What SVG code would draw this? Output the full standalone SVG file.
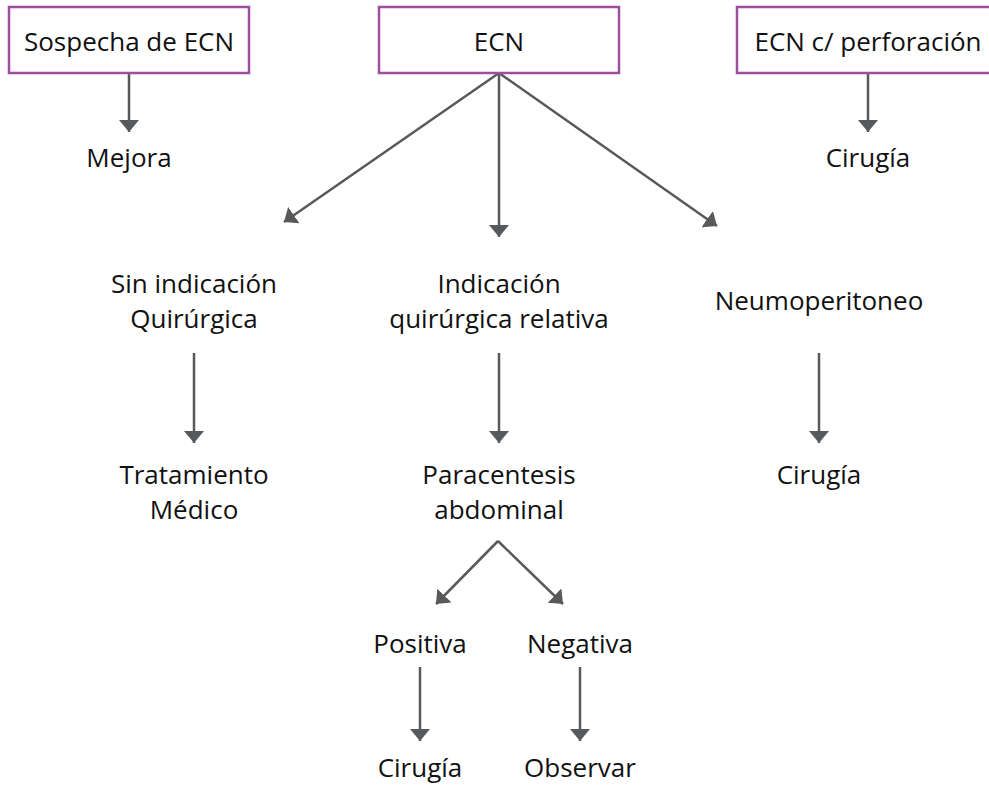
<svg xmlns="http://www.w3.org/2000/svg" width="989" height="787" viewBox="0 0 989 787">
<style>
.box{fill:#fff;stroke:#9e4f9f;stroke-width:2.5}
.t{font-family:"Open Sans","Liberation Sans",sans-serif;font-size:26px;fill:#111;text-anchor:middle}
.c{fill:none;stroke:#58595b;stroke-width:2.5}
</style>
<defs>
<marker id="ah" markerUnits="userSpaceOnUse" markerWidth="12" markerHeight="20" refX="12" refY="10" orient="auto" viewBox="0 0 12 20">
<path d="M0,0 L12,10 L0,20 z" fill="#58595b"/>
</marker>
</defs>
<rect width="989" height="787" fill="#fff"/>
<g id="connectors">
<path class="c" d="M129,73 V132" marker-end="url(#ah)"/>
<path class="c" d="M868,73 V132" marker-end="url(#ah)"/>
<path class="c" d="M499,73 L284,222" marker-end="url(#ah)"/>
<path class="c" d="M499,73 V237" marker-end="url(#ah)"/>
<path class="c" d="M499,73 L717,226" marker-end="url(#ah)"/>
<path class="c" d="M194,353 V443" marker-end="url(#ah)"/>
<path class="c" d="M499,353 V443" marker-end="url(#ah)"/>
<path class="c" d="M819,353 V443" marker-end="url(#ah)"/>
<path class="c" d="M498,541 L436,604" marker-end="url(#ah)"/>
<path class="c" d="M498,541 L563,604" marker-end="url(#ah)"/>
<path class="c" d="M420,667 V741" marker-end="url(#ah)"/>
<path class="c" d="M580,667 V741" marker-end="url(#ah)"/>
</g>
<g id="sospecha"><rect class="box" x="9" y="7" width="240" height="66"/><text class="t" x="129" y="51">Sospecha de ECN</text></g>
<g id="ecn"><rect class="box" x="379" y="7" width="240" height="66"/><text class="t" x="499" y="51">ECN</text></g>
<g id="perforacion"><rect class="box" x="737" y="7" width="262" height="66"/><text class="t" x="868" y="51">ECN c/ perforación</text></g>
<g id="mejora"><text class="t" x="129" y="167">Mejora</text></g>
<g id="cirugia1"><text class="t" x="868" y="167">Cirugía</text></g>
<g id="sin-indicacion"><text class="t" x="194" y="293">Sin indicación</text><text class="t" x="194" y="328">Quirúrgica</text></g>
<g id="indicacion-relativa"><text class="t" x="499" y="293">Indicación</text><text class="t" x="499" y="328">quirúrgica relativa</text></g>
<g id="neumoperitoneo"><text class="t" x="819" y="310">Neumoperitoneo</text></g>
<g id="tratamiento"><text class="t" x="194" y="484">Tratamiento</text><text class="t" x="194" y="519">Médico</text></g>
<g id="paracentesis"><text class="t" x="499" y="484">Paracentesis</text><text class="t" x="499" y="519">abdominal</text></g>
<g id="cirugia2"><text class="t" x="819" y="484">Cirugía</text></g>
<g id="positiva"><text class="t" x="420" y="653">Positiva</text></g>
<g id="negativa"><text class="t" x="580" y="653">Negativa</text></g>
<g id="cirugia3"><text class="t" x="420" y="777">Cirugía</text></g>
<g id="observar"><text class="t" x="580" y="777">Observar</text></g>
</svg>
